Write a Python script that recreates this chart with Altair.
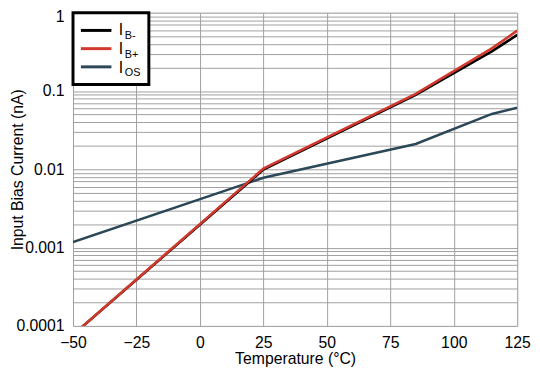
import altair as alt
import pandas as pd

# ---- data ----
temps = [-50, 25, 85, 115, 125]
ib_minus = [7.7e-5, 0.0099, 0.089, 0.32, 0.52]
ib_plus = [7.7e-5, 0.0102, 0.092, 0.35, 0.59]
i_os = [0.00118, 0.0078, 0.0211, 0.051, 0.061]

series_names = ["IB-", "IB+", "IOS"]
series_colors = ["#000000", "#d2392c", "#2c4757"]

legend_main = ["I", "I", "I"]
legend_sub = ["B-", "B+", "OS"]

x_ticks = [-50, -25, 0, 25, 50, 75, 100, 125]
y_grid = [float(f"{m}e{k}") for k in range(-4, 0) for m in range(1, 10)] + [1.0]

rows = []
for name, vals in zip(series_names, [ib_minus, ib_plus, i_os]):
    for t, v in zip(temps, vals):
        rows.append({"series": name, "temp": t, "value": v})
df = pd.DataFrame(rows)

FONT = "Liberation Sans"

x_enc = alt.X(
    "temp:Q",
    scale=alt.Scale(domain=[-50, 125], nice=False, zero=False),
    axis=alt.Axis(
        values=x_ticks,
        title="Temperature (°C)",
        labelFontSize=16,
        titleFontSize=16,
        titleFontWeight="normal",
        labelFont=FONT,
        titleFont=FONT,
        labelColor="black",
        titleColor="black",
        ticks=False,
        tickSize=0,
        domain=False,
        labelPadding=9,
        titleY=38,
        titleBaseline="alphabetic",
        labelFlush=False,
        gridColor="#a0a0a0",
        gridWidth=1,
    ),
)
y_enc = alt.Y(
    "value:Q",
    scale=alt.Scale(type="log", domain=[0.0001, 1], nice=False),
    axis=alt.Axis(
        values=y_grid,
        title="Input Bias Current (nA)",
        labelExpr="abs(log(datum.value)/LN10 - round(log(datum.value)/LN10)) < 0.001 ? format(datum.value, '~g') : ''",
        labelFontSize=16,
        titleFontSize=16,
        titleFontWeight="normal",
        labelFont=FONT,
        titleFont=FONT,
        labelColor="black",
        titleColor="black",
        ticks=False,
        tickSize=0,
        domain=False,
        labelPadding=9,
        labelOverlap=False,
        labelOffset={"condition": {"test": "datum.value == 1", "value": 4}, "value": 0},
        titleX=-51,
        titleBaseline="alphabetic",
        gridColor="#a0a0a0",
        gridWidth=1,
    ),
)

layers = []
for name, color in [("IOS", series_colors[2]), ("IB-", series_colors[0]), ("IB+", series_colors[1])]:
    layers.append(
        alt.Chart(df)
        .transform_filter(alt.datum.series == name)
        .mark_line(color=color, strokeWidth=2.6, clip=True)
        .encode(x=x_enc, y=y_enc)
    )

# legend box
one = pd.DataFrame({"a": [0]})
legend_layers = [
    alt.Chart(one).mark_rect(fill="white", stroke="black", strokeWidth=3).encode(
        x=alt.value(0), x2=alt.value(77), y=alt.value(0), y2=alt.value(73)
    )
]
line_y = [18, 36.5, 55]
text_y = [23, 42, 61]
for i in range(3):
    legend_layers.append(
        alt.Chart(one).mark_rule(color=series_colors[i], strokeWidth=3).encode(
            x=alt.value(8), x2=alt.value(39), y=alt.value(line_y[i])
        )
    )
    legend_layers.append(
        alt.Chart(one).mark_text(
            text=legend_main[i], font=FONT, fontSize=16, align="left", baseline="alphabetic", color="black"
        ).encode(x=alt.value(46.5), y=alt.value(text_y[i]))
    )
    legend_layers.append(
        alt.Chart(one).mark_text(
            text=legend_sub[i], font=FONT, fontSize=11, align="left", baseline="alphabetic", color="black"
        ).encode(x=alt.value(52.5), y=alt.value(text_y[i] + 3.5))
    )

chart = (
    alt.layer(*layers, *legend_layers)
    .properties(
        width=451,
        height=318,
        autosize=alt.AutoSizeParams(type="none"),
        padding={"left": 66, "top": 2, "right": 15, "bottom": 42},
    )
    .configure_view(stroke="black", strokeWidth=3)
    .configure(background="white")
)

chart.save("out.html", embed_options={"renderer": "svg", "actions": False})
